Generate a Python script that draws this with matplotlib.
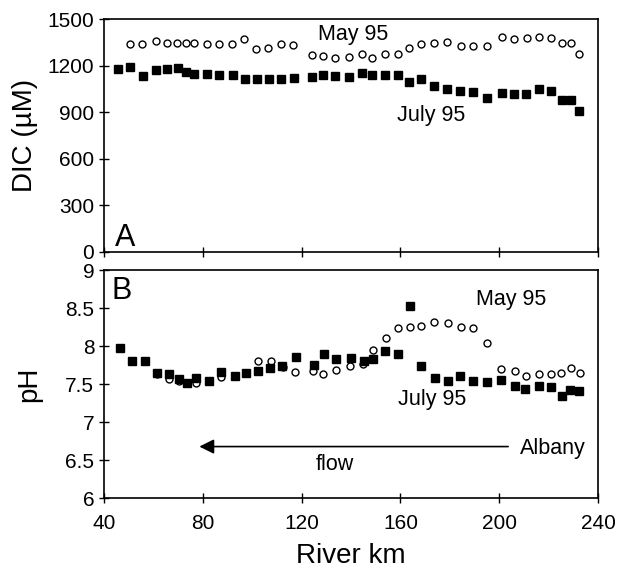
import matplotlib
matplotlib.use("Agg")
import matplotlib.pyplot as plt

plt.rcParams['font.family'] = ['Liberation Sans', 'DejaVu Sans']

# DIC, May 95 (open circles)
dic_may_km = [50.5, 55.5, 60.9, 65.4, 69.7, 73.1, 76.6, 81.8, 86.6, 91.9, 96.7, 101.5,
              106.5, 111.5, 116.4, 124.2, 128.5, 133.6, 139.3, 144.6, 148.4, 153.8,
              158.9, 163.6, 168.3, 173.6, 178.7, 184.4, 189.5, 194.9, 201.0, 206.0,
              211.1, 216.0, 220.8, 225.3, 228.9, 232.4]
dic_may = [1336, 1340, 1357, 1345, 1343, 1343, 1343, 1336, 1340, 1340, 1368, 1304,
           1314, 1340, 1330, 1271, 1260, 1250, 1254, 1275, 1250, 1275,
           1275, 1314, 1336, 1347, 1353, 1325, 1325, 1325, 1383, 1372,
           1379, 1385, 1379, 1347, 1347, 1275]

# DIC, July 95 (filled squares)
dic_jul_km = [45.8, 50.5, 55.7, 60.9, 65.6, 70.1, 73.1, 76.6, 81.8, 86.7, 92.3, 97.1,
              101.8, 106.8, 111.7, 116.9, 124.2, 128.8, 133.5, 139.3, 144.6, 148.4,
              153.8, 158.9, 163.6, 168.3, 173.6, 179.0, 184.1, 189.5, 194.9, 201.0,
              206.0, 210.9, 216.0, 220.8, 225.3, 228.9, 232.4]
dic_jul = [1179, 1191, 1131, 1174, 1179, 1185, 1159, 1146, 1146, 1138, 1138, 1116,
           1116, 1116, 1116, 1120, 1125, 1138, 1131, 1125, 1153, 1142,
           1142, 1138, 1094, 1116, 1067, 1052, 1039, 1030, 991, 1023,
           1019, 1019, 1052, 1039, 981, 976, 909]

# pH, May 95
ph_may_km = [61.6, 66.3, 70.4, 73.4, 77.1, 87.2, 92.9, 97.6, 102.3, 107.5, 112.5,
             117.2, 124.6, 128.6, 134.0, 139.5, 145.0, 149.0, 154.0, 159.1, 163.8,
             168.3, 173.7, 179.2, 184.4, 189.4, 195.1, 200.9, 206.3, 211.0, 216.1,
             221.0, 225.2, 228.9, 232.6]
ph_may = [7.63, 7.57, 7.54, 7.52, 7.51, 7.59, 7.61, 7.65, 7.80, 7.80, 7.72,
          7.66, 7.67, 7.63, 7.68, 7.74, 7.76, 7.95, 8.11, 8.24, 8.25,
          8.27, 8.32, 8.31, 8.25, 8.24, 8.04, 7.70, 7.67, 7.61, 7.64,
          7.64, 7.65, 7.71, 7.65]

# pH, July 95
ph_jul_km = [46.6, 51.3, 56.5, 61.6, 66.3, 70.4, 73.6, 77.4, 82.5, 87.5, 92.9, 97.6,
             102.5, 107.3, 112.2, 117.9, 124.9, 128.9, 133.8, 140.1, 145.1, 148.9,
             153.9, 159.0, 163.7, 168.4, 173.8, 179.2, 184.2, 189.3, 195.0, 200.8,
             206.2, 210.6, 216.0, 221.0, 225.3, 228.7, 232.5]
ph_jul = [7.97, 7.81, 7.81, 7.65, 7.64, 7.57, 7.51, 7.58, 7.54, 7.66, 7.61, 7.65,
          7.67, 7.71, 7.74, 7.86, 7.75, 7.89, 7.83, 7.84, 7.80, 7.83,
          7.93, 7.89, 8.53, 7.74, 7.58, 7.54, 7.61, 7.54, 7.53, 7.56,
          7.48, 7.44, 7.47, 7.46, 7.34, 7.42, 7.41]

fig = plt.figure(figsize=(6.21, 5.71), dpi=100)
ax1 = fig.add_axes([0.1675, 0.5592, 0.7955, 0.4075])
ax2 = fig.add_axes([0.1675, 0.1273, 0.7955, 0.3998])

circ = dict(linestyle='none', marker='o', markersize=5, markerfacecolor='white',
            markeredgecolor='black', markeredgewidth=1.0)
sq = dict(linestyle='none', marker='s', markersize=6, color='black')

ax1.plot(dic_may_km, dic_may, **circ)
ax1.plot(dic_jul_km, dic_jul, **sq)
ax2.plot(ph_may_km, ph_may, **circ)
ax2.plot(ph_jul_km, ph_jul, **sq)

for ax in (ax1, ax2):
    ax.set_xlim(40, 240)
    ax.set_xticks([40, 80, 120, 160, 200, 240])
    ax.tick_params(direction='inout', length=7, width=1, labelsize=15)
    ax.tick_params(axis='x', pad=8)
    for s in ax.spines.values():
        s.set_linewidth(1.2)

ax1.set_ylim(0, 1500)
ax1.set_yticks([0, 300, 600, 900, 1200, 1500])
ax1.tick_params(axis='x', labelbottom=False)
ax1.set_ylabel('DIC (\u00b5M)', fontsize=20)
ax1.yaxis.set_label_coords(-0.133, 0.5)

ax2.set_ylim(6, 9)
ax2.set_yticks([6, 6.5, 7, 7.5, 8, 8.5, 9])
ax2.set_yticklabels(['6', '6.5', '7', '7.5', '8', '8.5', '9'])
ax2.set_ylabel('pH', fontsize=20)
ax2.yaxis.set_label_coords(-0.125, 0.5)
ax2.set_xlabel('River km', fontsize=20, labelpad=7)

ax1.text(44.5, 88, 'A', fontsize=22, va='center', ha='left')
ax1.text(141, 1397, 'May 95', fontsize=15.5, ha='center', va='center')
ax1.text(172.6, 881, 'July 95', fontsize=15.5, ha='center', va='center')

ax2.text(43, 8.72, 'B', fontsize=22, va='center', ha='left')
ax2.text(205, 8.61, 'May 95', fontsize=15.5, ha='center', va='center')
ax2.text(173, 7.30, 'July 95', fontsize=15.5, ha='center', va='center')
ax2.annotate('', xy=(78.6, 6.68), xytext=(203.6, 6.68),
             arrowprops=dict(arrowstyle='-|>', color='black', lw=1.2,
                             mutation_scale=22, shrinkA=0, shrinkB=0))
ax2.text(133.5, 6.45, 'flow', fontsize=15.5, ha='center', va='center')
ax2.text(221.6, 6.66, 'Albany', fontsize=15.5, ha='center', va='center')

fig.savefig('out.png', dpi=100)
